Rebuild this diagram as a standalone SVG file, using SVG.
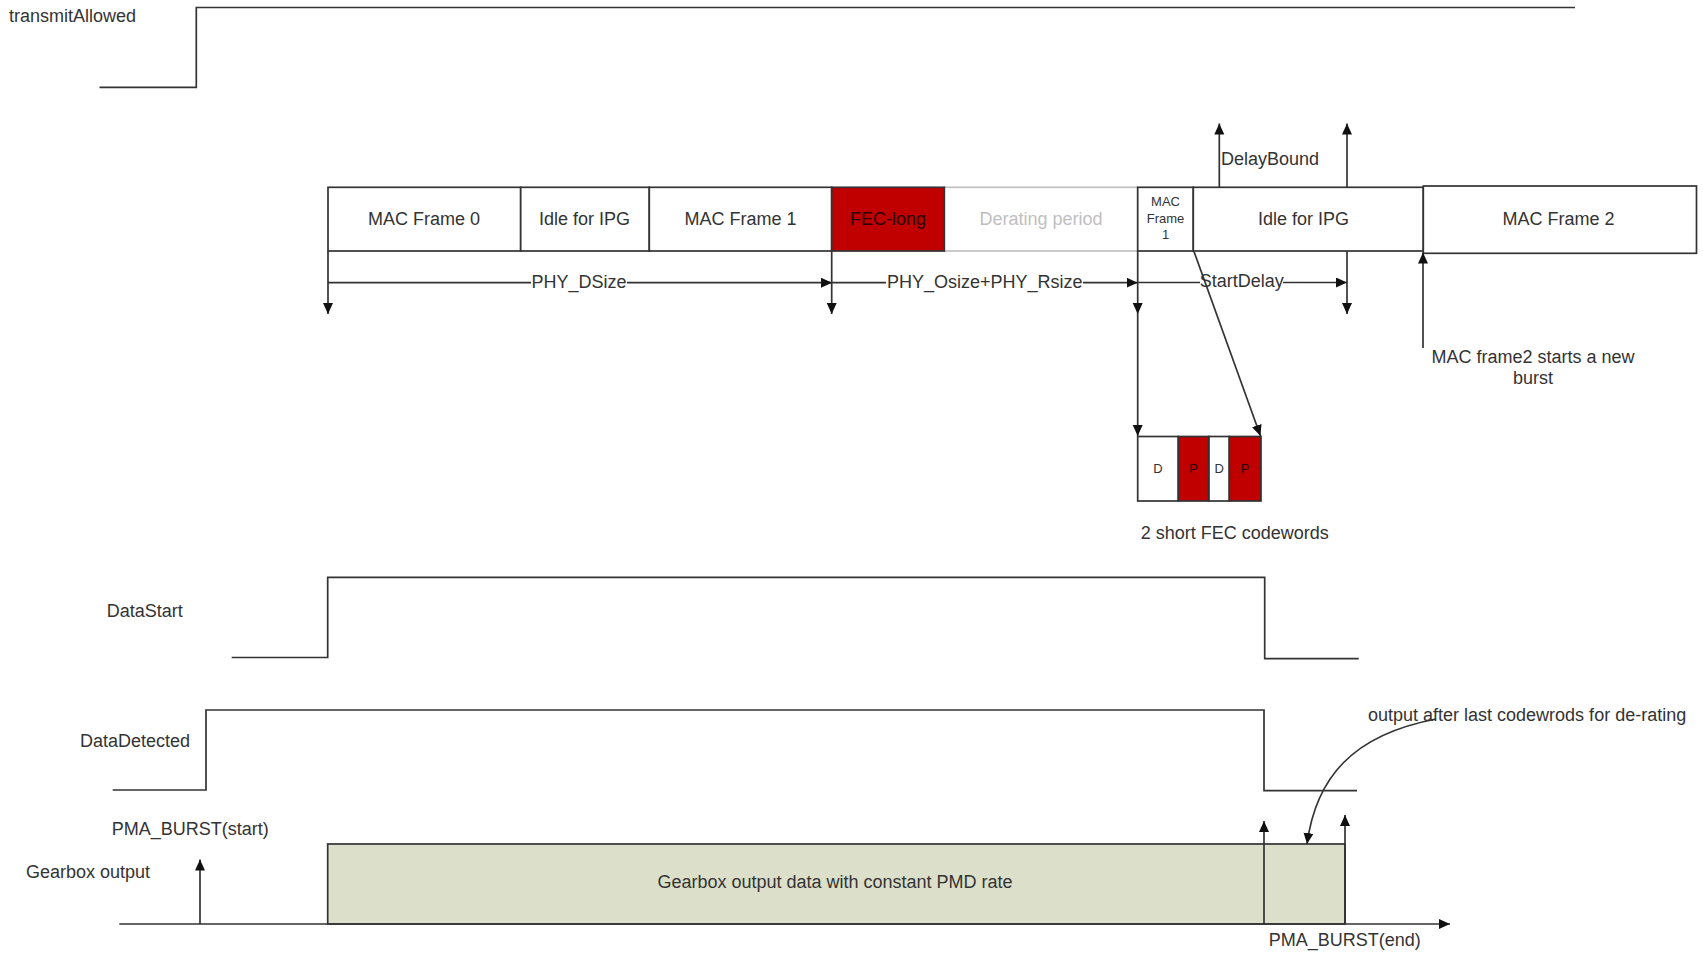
<svg xmlns="http://www.w3.org/2000/svg" width="1703" height="953" viewBox="0 0 1703 953">
<style>
.t{font-family:"Liberation Sans",Arial,sans-serif;font-size:18px;fill:#333}
.c{text-anchor:middle}
.s{font-size:13px}
.box{fill:#fff;stroke:#333;stroke-width:1.7}
.ln{fill:none;stroke:#333;stroke-width:1.7}
.ar{fill:none;stroke:#333;stroke-width:1.7;marker-end:url(#ah)}
</style>
<defs>
<marker id="ah" markerUnits="userSpaceOnUse" markerWidth="13" markerHeight="12" refX="11" refY="5" orient="auto">
<path d="M0,0 L11,5 L0,10 z" fill="#111"/>
</marker>
</defs>
<rect width="1703" height="953" fill="#fff"/>

<g id="transmitAllowed">
<polyline class="ln" points="99.5,87.3 196.3,87.3 196.3,7.5 1575,7.5"/>
<text class="t" x="9" y="21.5">transmitAllowed</text>
</g>

<g id="derating">
<rect x="944.3" y="187.3" width="193.4" height="63.7" fill="#fff" stroke="#c0c0c0" stroke-width="1.7"/>
<text class="t c" x="1041" y="225" style="fill:#c0c0c0">Derating period</text>
</g>
<g id="macframe0">
<rect class="box" x="328" y="187.3" width="192.7" height="63.7"/>
<text class="t c" x="424" y="225">MAC Frame 0</text>
</g>
<g id="idle1">
<rect class="box" x="520.7" y="187.3" width="128.6" height="63.7"/>
<text class="t c" x="584.5" y="225">Idle for IPG</text>
</g>
<g id="macframe1">
<rect class="box" x="649.3" y="187.3" width="182.4" height="63.7"/>
<text class="t c" x="740.5" y="225">MAC Frame 1</text>
</g>
<g id="feclong">
<rect x="831.7" y="187.3" width="112.6" height="63.7" fill="#c00000" stroke="#333" stroke-width="1.7"/>
<text class="t c" x="888" y="225" style="fill:#2a0000">FEC-long</text>
</g>
<g id="macframe1b">
<rect class="box" x="1137.7" y="187.3" width="55.6" height="63.7"/>
<text class="t c s" x="1165.5" y="206">MAC</text>
<text class="t c s" x="1165.5" y="222.5">Frame</text>
<text class="t c s" x="1165.5" y="239">1</text>
</g>
<g id="idle2">
<rect class="box" x="1193.3" y="187.3" width="230" height="63.7"/>
<text class="t c" x="1303.5" y="225">Idle for IPG</text>
</g>
<g id="macframe2">
<rect class="box" x="1423.3" y="186" width="273.2" height="67.3"/>
<text class="t c" x="1558.5" y="225">MAC Frame 2</text>
</g>

<g id="codewords">
<rect class="box" x="1137.7" y="436.5" width="40.6" height="64.5"/>
<rect x="1178.3" y="436.5" width="30.7" height="64.5" fill="#c00000" stroke="#333" stroke-width="1.7"/>
<rect class="box" x="1209" y="436.5" width="20.3" height="64.5"/>
<rect x="1229.3" y="436.5" width="31.7" height="64.5" fill="#c00000" stroke="#333" stroke-width="1.7"/>
<text class="t c s" x="1158" y="473">D</text>
<text class="t c s" x="1193.7" y="473" style="fill:#2a0000">P</text>
<text class="t c s" x="1219.2" y="473">D</text>
<text class="t c s" x="1245.2" y="473" style="fill:#2a0000">P</text>
<text class="t" x="1140.7" y="539">2 short FEC codewords</text>
</g>

<g id="dataStart">
<polyline class="ln" points="231.7,657.5 327.7,657.5 327.7,577.3 1264.7,577.3 1264.7,658.7 1358.7,658.7"/>
<text class="t" x="106.7" y="616.5">DataStart</text>
</g>
<g id="dataDetected">
<polyline class="ln" points="112.7,790 206,790 206,710 1264,710 1264,790.7 1357,790.7"/>
<text class="t" x="80" y="747">DataDetected</text>
</g>

<g id="gearbox">
<rect x="327.7" y="844" width="1017.3" height="80" fill="#dce0ca" stroke="#333" stroke-width="1.7"/>
<text class="t c" x="835" y="888">Gearbox output data with constant PMD rate</text>
<text class="t" x="26" y="878">Gearbox output</text>
<text class="t" x="111.7" y="834.5">PMA_BURST(start)</text>
<text class="t c" x="1344.7" y="946">PMA_BURST(end)</text>
</g>

<g id="labels">
<text class="t c" x="579" y="287.5">PHY_DSize</text>
<text class="t c" x="984.7" y="287.5">PHY_Osize+PHY_Rsize</text>
<text class="t c" x="1241.7" y="287">StartDelay</text>
<text class="t" x="1221" y="165">DelayBound</text>
<text class="t c" x="1533" y="363">MAC frame2 starts a new</text>
<text class="t c" x="1533" y="384">burst</text>
<text class="t" x="1368" y="720.5">output after last codewrods for de-rating</text>
</g>

<g id="connectors">
<line class="ln" x1="328" y1="282.7" x2="531" y2="282.7"/>
<line class="ar" x1="627" y1="282.7" x2="832" y2="282.7"/>
<line class="ln" x1="832" y1="282.7" x2="886" y2="282.7"/>
<line class="ar" x1="1083" y1="282.7" x2="1137.7" y2="282.7"/>
<line class="ln" x1="1137.7" y1="282.5" x2="1200" y2="282.5"/>
<line class="ar" x1="1283" y1="282.5" x2="1347" y2="282.5"/>
<line class="ar" x1="328" y1="251" x2="328" y2="314"/>
<line class="ar" x1="831.7" y1="251" x2="831.7" y2="314"/>
<line class="ar" x1="1137.7" y1="251" x2="1137.7" y2="314"/>
<line class="ar" x1="1137.7" y1="314" x2="1137.7" y2="436"/>
<line class="ar" x1="1347" y1="251" x2="1347" y2="314"/>
<line class="ar" x1="1219.3" y1="187.3" x2="1219.3" y2="123.5"/>
<line class="ar" x1="1347" y1="187.3" x2="1347" y2="123.5"/>
<line class="ar" x1="1194" y1="251.5" x2="1260.5" y2="436"/>
<line class="ar" x1="1423" y1="348" x2="1423" y2="252.5"/>
<line class="ar" x1="119.3" y1="924" x2="1450" y2="924"/>
<line class="ar" x1="200" y1="924" x2="200" y2="859.5"/>
<line class="ar" x1="1264" y1="924" x2="1264" y2="821"/>
<line class="ar" x1="1345" y1="924" x2="1345" y2="815"/>
<path class="ar" d="M1436,719 C1352,735 1316,778 1307,844"/>
</g>
</svg>
